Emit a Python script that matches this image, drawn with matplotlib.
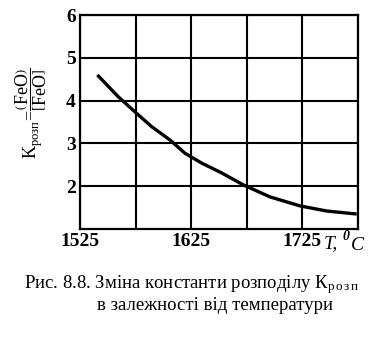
import numpy as np
import matplotlib.pyplot as plt

plt.rcParams['font.family'] = ['Liberation Serif', 'DejaVu Serif']
plt.rcParams['mathtext.fontset'] = 'custom'
plt.rcParams['mathtext.rm'] = 'Liberation Serif'
plt.rcParams['mathtext.it'] = 'Liberation Serif:italic'
plt.rcParams['mathtext.bf'] = 'Liberation Serif:bold'

# дані
temp = [1540.6, 1559.4, 1576.0, 1589.5, 1605.9, 1619.4, 1634.4, 1652.4,
        1671.9, 1695.9, 1722.8, 1746.9, 1773.8]
k_rozp = [4.60, 4.09, 3.70, 3.39, 3.08, 2.77, 2.54, 2.31,
          2.03, 1.75, 1.54, 1.42, 1.35]

x_ticks = [1525, 1625, 1725]
x_grid = [1525, 1575, 1625, 1675, 1725, 1775]
y_ticks = [2, 3, 4, 5, 6]

fig = plt.figure(figsize=(3.8, 3.42), dpi=100)
ax = fig.add_axes([80 / 380, 1 - 229 / 342, 278 / 380, 214 / 342])

ax.set_xlim(1525, 1775)
ax.set_ylim(1, 6)
ax.set_xticks(x_grid)
ax.set_xticklabels([str(t) if t in x_ticks else '' for t in x_grid])
ax.set_yticks(y_ticks)
ax.tick_params(length=0, labelsize=14, pad=3)
for lab in ax.get_xticklabels() + ax.get_yticklabels():
    lab.set_fontweight('bold')
ax.grid(True, color='black', linewidth=1.5)
for s in ax.spines.values():
    s.set_linewidth(1.6)

ax.plot(temp, k_rozp, color='black', linewidth=2.4,
        solid_capstyle='butt', solid_joinstyle='round')

# підпис осі T, 0C
fig.text(324 / 380, 1 - 244 / 342, 'T,', fontsize=14, style='italic',
         ha='left', va='center')
fig.text(343 / 380, 1 - 236 / 342, '0', fontsize=10, style='italic',
         fontweight='bold', ha='left', va='center')
fig.text(351 / 380, 1 - 246 / 342, 'C', fontsize=14, style='italic',
         ha='left', va='center')

fig.text(31 / 380, 1 - 113 / 342,
         r'$\mathrm{K}_{\mathrm{розп}}\!=\!\dfrac{\left(\mathrm{FeO}\right)}{\left[\mathrm{FeO}\right]}$',
         rotation=90, fontsize=13, ha='center', va='center')

fig.text(191 / 380, 1 - 285 / 342,
         r'Рис. 8.8. Зміна константи розподілу К$_{\mathrm{р\,о\,з\,п}}$',
         fontsize=13.5, ha='center', va='center')
fig.text(215 / 380, 1 - 306 / 342, 'в залежності від температури',
         fontsize=13.5, ha='center', va='center')

fig.savefig('out.png', dpi=100)
